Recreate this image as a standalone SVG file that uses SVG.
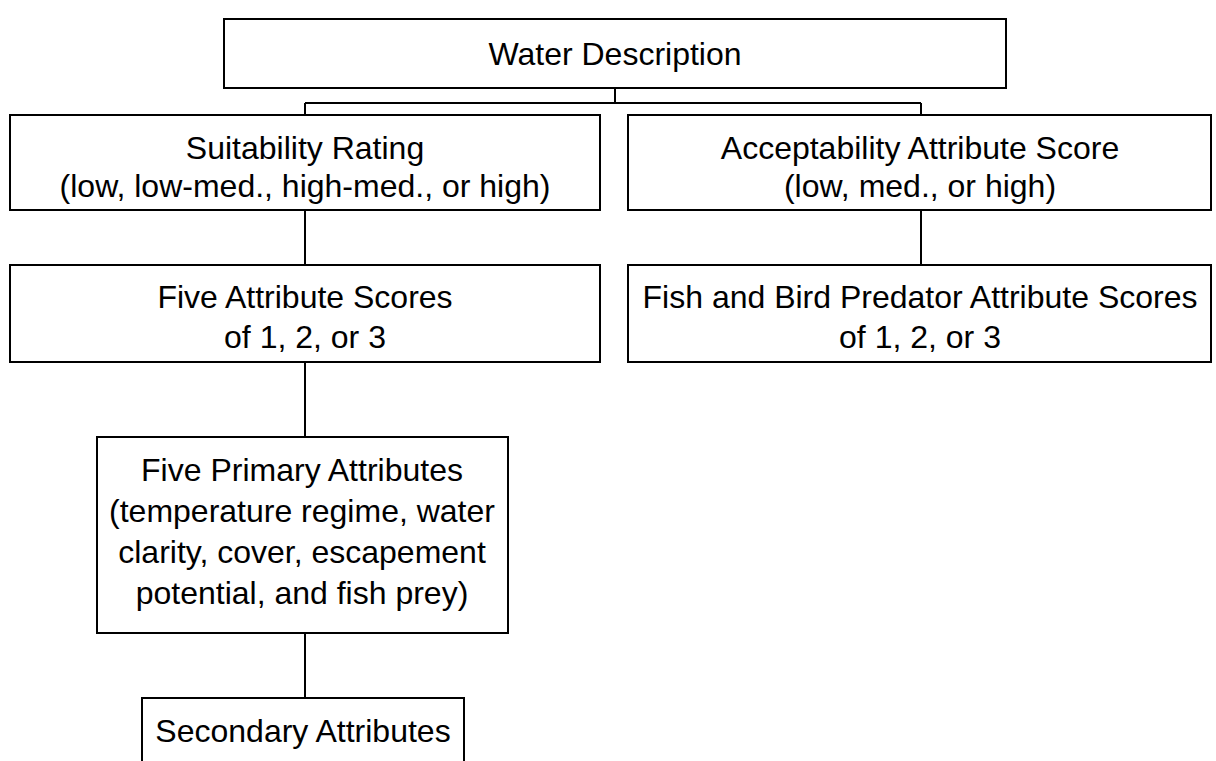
<svg xmlns="http://www.w3.org/2000/svg" width="1216" height="761" viewBox="0 0 1216 761">
<style>
.box{fill:#fff;stroke:#000;stroke-width:2}
.t{font-family:"Liberation Sans",Arial,sans-serif;font-size:32px;fill:#000;text-anchor:middle}
.c{stroke:#000;stroke-width:2;fill:none}
</style>
<rect width="1216" height="761" fill="#fff"/>
<g id="connectors">
<path class="c" d="M615 88V103M305 103H921M305 103V115M921 103V115M305 210V265M921 210V265M305 362V437M305 633V698"/>
</g>
<g id="water">
<rect class="box" x="224" y="19" width="782" height="69"/>
<text class="t" x="615" y="65">Water Description</text>
</g>
<g id="suitability">
<rect class="box" x="10" y="115" width="590" height="95"/>
<text class="t" x="305" y="159">Suitability Rating</text>
<text class="t" x="305" y="197">(low, low-med., high-med., or high)</text>
</g>
<g id="acceptability">
<rect class="box" x="628" y="115" width="583" height="95"/>
<text class="t" x="920" y="159">Acceptability Attribute Score</text>
<text class="t" x="920" y="197">(low, med., or high)</text>
</g>
<g id="five-scores">
<rect class="box" x="10" y="265" width="590" height="97"/>
<text class="t" x="305" y="308">Five Attribute Scores</text>
<text class="t" x="305" y="348">of 1, 2, or 3</text>
</g>
<g id="fish-bird">
<rect class="box" x="628" y="265" width="583" height="97"/>
<text class="t" x="920" y="308">Fish and Bird Predator Attribute Scores</text>
<text class="t" x="920" y="348">of 1, 2, or 3</text>
</g>
<g id="five-primary">
<rect class="box" x="97" y="437" width="411" height="196"/>
<text class="t" x="302" y="481">Five Primary Attributes</text>
<text class="t" x="302" y="522">(temperature regime, water</text>
<text class="t" x="302" y="563">clarity, cover, escapement</text>
<text class="t" x="302" y="604">potential, and fish prey)</text>
</g>
<g id="secondary">
<rect class="box" x="142" y="698" width="322" height="80"/>
<text class="t" x="303" y="742">Secondary Attributes</text>
</g>
</svg>
